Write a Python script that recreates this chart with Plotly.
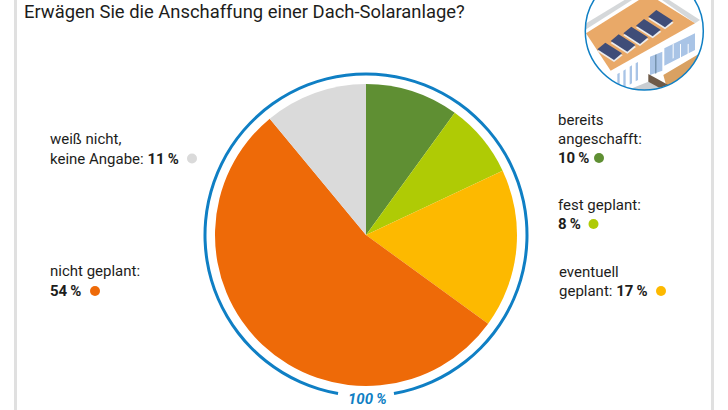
import plotly.graph_objects as go

W, H = 728, 410
categories = ["bereits angeschafft", "fest geplant", "eventuell geplant", "nicht geplant", "weiß nicht, keine Angabe"]
values = [10, 8, 17, 54, 11]
colors = ["#5F8F33", "#AFCB05", "#FDB900", "#EE6A08", "#DADADA"]
ring_parts = [340, 20]
title = "Erwägen Sie die Anschaffung einer Dach-Solaranlage?"
FONT = "Roboto"
TEXT = "#1d1d1b"

def px(x): return x / W
def py(y): return 1 - y / H
def dom(cx, cy, r):
    return dict(x=[px(cx - r), px(cx + r)], y=[py(cy + r), py(cy - r)])

fig = go.Figure()
fig.add_trace(go.Pie(values=values, labels=categories, sort=False, direction="clockwise", rotation=0,
                     marker=dict(colors=colors, line=dict(width=0)), textinfo="none", hole=0,
                     domain=dom(366, 235, 151), showlegend=False, hoverinfo="label+percent"))
fig.add_trace(go.Pie(values=ring_parts, labels=["Gesamt", ""], sort=False, direction="clockwise", rotation=190,
                     marker=dict(colors=["#0F7FC4", "rgba(0,0,0,0)"], line=dict(width=0)), textinfo="none",
                     hole=159.5/162.5, domain=dom(366, 235, 162.5), showlegend=False, hoverinfo="skip"))

shapes = []
def rect(x0, y0, x1, y1, col):
    shapes.append(dict(type="rect", xref="paper", yref="paper", x0=px(x0), x1=px(x1), y0=py(y1), y1=py(y0),
                       fillcolor=col, line=dict(width=0), layer="above"))
def poly(pts, col):
    d = "M" + " L".join(f"{px(x):.5f},{py(y):.5f}" for x, y in pts) + " Z"
    shapes.append(dict(type="path", xref="paper", yref="paper", path=d, fillcolor=col, line=dict(width=0), layer="above"))
def dot(x, y, r, col):
    shapes.append(dict(type="circle", xref="paper", yref="paper", x0=px(x-r), x1=px(x+r), y0=py(y+r), y1=py(y-r),
                       fillcolor=col, line=dict(width=0), layer="above"))

# page frame lines
rect(14, 0, 17, H, "#E0E0E0")
rect(711, 0, 714, H, "#E0E0E0")

# icon, coordinates taken from the zoomed crop
def z(x, y): return (540 + x / 3, y / 3)
poly([z(130, -10), z(500, -10), z(500, 280), z(130, 280)], "#FFFFFF")
poly([z(130, 75), z(270, -10), z(292, -10), z(135, 90)], "#D5D8DA")
poly([z(352, -10), z(372, -10), z(480, 60), z(465, 70)], "#D5D8DA")
poly([z(138, 100), z(300, -2), z(350, -2), z(465, 70), z(212, 212)], "#E9A968")
poly([z(370, 225), z(480, 160), z(490, 260), z(380, 262)], "#D9A162")
poly([z(373, 145), z(465, 100), z(465, 150), z(373, 197)], "#A9C4E6")
for xx in (398, 420, 443):
    poly([z(xx, 133), z(xx+3, 131), z(xx+3, 174), z(xx, 176)], "#FFFFFF")
poly([z(330, 170), z(367, 155), z(367, 212), z(330, 225)], "#A9C4E6")
poly([z(346, 165), z(349, 163), z(349, 220), z(346, 221)], "#5E7C94")
for xx, top in ((235, 222), (253, 212), (272, 200), (290, 190)):
    poly([z(xx-3, top), z(xx+4, top-4), z(xx+4, top+50), z(xx-3, top+54)], "#A9C4E6")
poly([z(325, 222), z(385, 255), z(360, 272), z(325, 255)], "#6E5A48")
poly([z(250, 275), z(325, 245), z(380, 275)], "#C9CDD1")
for lx, ly in ((172, 148), (212, 123), (250, 100), (288, 77), (325, 50)):
    poly([z(lx, ly+6), z(lx+24, ly-14), z(lx+76, ly+18), z(lx+50, ly+38)], "#EDEDED")
    poly([z(lx, ly), z(lx+24, ly-20), z(lx+74, ly+12), z(lx+50, ly+32)], "#3F4D78")
# circular mask of the icon
cx_, cy_, r_ = 644.3, 31, 59
k = 0.5523 * r_
circle = (f"M{px(cx_-r_):.5f},{py(cy_):.5f} "
          f"C{px(cx_-r_):.5f},{py(cy_-k):.5f} {px(cx_-k):.5f},{py(cy_-r_):.5f} {px(cx_):.5f},{py(cy_-r_):.5f} "
          f"C{px(cx_+k):.5f},{py(cy_-r_):.5f} {px(cx_+r_):.5f},{py(cy_-k):.5f} {px(cx_+r_):.5f},{py(cy_):.5f} "
          f"C{px(cx_+r_):.5f},{py(cy_+k):.5f} {px(cx_+k):.5f},{py(cy_+r_):.5f} {px(cx_):.5f},{py(cy_+r_):.5f} "
          f"C{px(cx_-k):.5f},{py(cy_+r_):.5f} {px(cx_-r_):.5f},{py(cy_+k):.5f} {px(cx_-r_):.5f},{py(cy_):.5f} Z")
box = (f"M{px(575):.5f},{py(-35):.5f} L{px(708):.5f},{py(-35):.5f} L{px(708):.5f},{py(100):.5f} L{px(575):.5f},{py(100):.5f} Z")
shapes.append(dict(type="path", xref="paper", yref="paper", path=box + " " + circle, fillcolor="#FFFFFF",
                   line=dict(width=0), layer="above"))
shapes.append(dict(type="path", xref="paper", yref="paper", path=circle, fillcolor="rgba(0,0,0,0)",
                   line=dict(width=1.5, color="#0F7FC4"), layer="above"))

# legend dots
dot(599, 158, 5, colors[0])
dot(593.5, 224, 5, colors[1])
dot(661, 291, 5, colors[2])
dot(95, 291, 5, colors[3])
dot(192, 158.5, 5, colors[4])

ann = []
def label(x, y, text, size=15, color=TEXT, anchor="left", pad=1):
    ann.append(dict(xref="paper", yref="paper", x=px(x), y=py(y), text=text, showarrow=False, xanchor=anchor, yanchor="middle",
                    align=anchor, borderpad=pad, font=dict(family=FONT, size=size, color=color)))
label(23, 11.5, title, size=18.4, pad=0)
label(47.5, 139, "weiß nicht,")
label(47.5, 158.5, "keine Angabe: <b>11\u2009%</b>")
label(47.5, 271, "nicht geplant:")
label(47.5, 291, "<b>54\u2009%</b>")
label(555.5, 120, "bereits")
label(555.5, 139, "angeschafft:")
label(555.5, 158, "<b>10\u2009%</b>")
label(555.5, 205, "fest geplant:")
label(555.5, 224, "<b>8\u2009%</b>")
label(557, 272, "eventuell")
label(557, 291, "geplant: <b>17\u2009%</b>")
label(367, 398.5, "<b><i>100\u2009%</i></b>", color="#0F7FC4", anchor="center")

fig.update_layout(width=W, height=H, margin=dict(l=0, r=0, t=0, b=0), paper_bgcolor="white", plot_bgcolor="white",
                  shapes=shapes, annotations=ann, showlegend=False)
fig.write_html("out.html", config=dict(displayModeBar=False),
               post_script="document.body.style.margin='0';document.body.style.overflow='hidden';")
